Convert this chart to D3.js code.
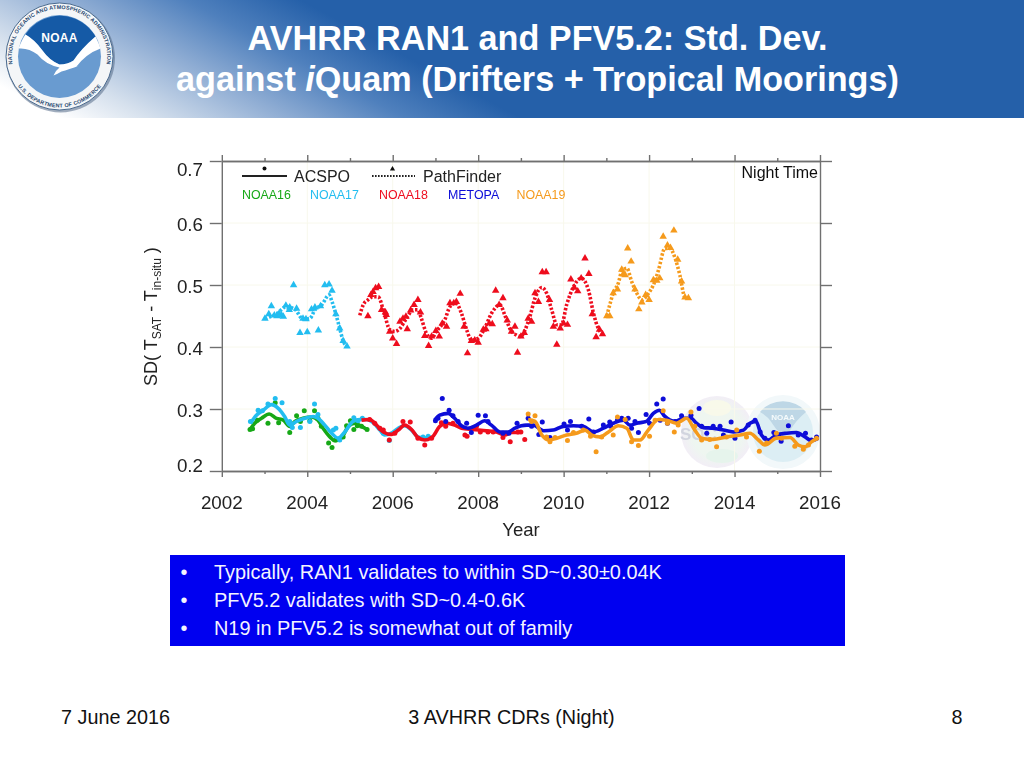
<!DOCTYPE html>
<html><head><meta charset="utf-8">
<script src="https://cdn.jsdelivr.net/npm/d3@7"></script>
<style>html,body{margin:0;padding:0;background:#fff}svg{display:block}text{font-family:"Liberation Sans",Arial,sans-serif}</style>
</head><body><div id="c"></div>
<script>
const titleLine1="AVHRR RAN1 and PFV5.2: Std. Dev.";
const yearTicks=[2002,2004,2006,2008,2010,2012,2014,2016];
const minorYearTicks=[2003,2005,2007,2009,2011,2013,2015];
const sdTicks=[0.2,0.3,0.4,0.5,0.6,0.7];
const bullets=["Typically, RAN1 validates to within SD~0.30±0.04K","PFV5.2 validates with SD~0.4-0.6K","N19 in PFV5.2 is somewhat out of family"];
const legendNames=["NOAA16","NOAA17","NOAA18","METOPA","NOAA19"];
const seriesColors={n16:"#18a818",n17:"#22bdf0",n18:"#ee0a1e",metop:"#0a0ad8",n19:"#f59a1c"};

const pf17Points=[[2003.01,.446],[2003.10,.453],[2003.16,.466],[2003.23,.451],[2003.29,.450],[2003.34,.454],[2003.40,.451],[2003.44,.449],[2003.50,.467],[2003.58,.460],[2003.59,.464],[2003.68,.500],[2003.75,.462],[2003.83,.423],[2003.90,.446],[2003.97,.445],[2004.00,.424],[2004.10,.461],[2004.18,.464],[2004.26,.427],[2004.31,.466],[2004.41,.500],[2004.51,.501],[2004.58,.491],[2004.67,.453],[2004.76,.430],[2004.84,.410],[2004.93,.401]];
const pf17Line=[[2003.01,.446],[2003.29,.454],[2003.51,.465],[2003.71,.461],[2003.90,.445],[2004.06,.446],[2004.18,.460],[2004.34,.468],[2004.51,.484],[2004.58,.473],[2004.67,.453],[2004.76,.430],[2004.84,.410],[2004.93,.401]];
const pf18Points=[[2005.42,.450],[2005.49,.484],[2005.54,.489],[2005.60,.495],[2005.67,.497],[2005.74,.460],[2005.83,.456],[2005.85,.452],[2005.93,.425],[2006.00,.414],[2006.09,.405],[2006.17,.441],[2006.24,.446],[2006.31,.449],[2006.34,.429],[2006.42,.459],[2006.50,.468],[2006.59,.476],[2006.65,.456],[2006.75,.418],[2006.84,.402],[2006.91,.417],[2007.01,.426],[2007.09,.417],[2007.16,.438],[2007.26,.433],[2007.34,.471],[2007.43,.471],[2007.49,.473],[2007.58,.486],[2007.67,.433],[2007.75,.390],[2007.84,.410],[2007.92,.411],[2008.00,.407],[2008.12,.428],[2008.18,.429],[2008.26,.438],[2008.33,.437],[2008.41,.491],[2008.49,.468],[2008.58,.479],[2008.68,.443],[2008.78,.425],[2008.86,.433],[2008.92,.391],[2009.00,.417],[2009.08,.423],[2009.17,.446],[2009.25,.441],[2009.33,.487],[2009.41,.473],[2009.50,.521],[2009.59,.521],[2009.67,.476],[2009.76,.433],[2009.84,.404],[2009.92,.430],[2010.00,.438],[2010.09,.436],[2010.17,.509],[2010.25,.496],[2010.33,.490],[2010.41,.511],[2010.50,.543],[2010.59,.518],[2010.67,.453],[2010.76,.416],[2010.84,.428],[2010.91,.421]];
const pf18Line=[[2005.23,.451],[2005.31,.468],[2005.42,.476],[2005.54,.481],[2005.66,.481],[2005.78,.460],[2005.93,.428],[2006.05,.425],[2006.17,.430],[2006.32,.446],[2006.48,.460],[2006.59,.460],[2006.67,.446],[2006.79,.422],[2006.91,.414],[2007.02,.425],[2007.22,.444],[2007.34,.465],[2007.48,.471],[2007.61,.454],[2007.73,.428],[2007.84,.411],[2008.00,.414],[2008.15,.430],[2008.31,.454],[2008.51,.468],[2008.62,.452],[2008.74,.430],[2008.90,.419],[2009.00,.417],[2009.10,.428],[2009.21,.449],[2009.33,.479],[2009.49,.496],[2009.60,.487],[2009.72,.460],[2009.84,.436],[2009.95,.436],[2010.07,.468],[2010.23,.497],[2010.41,.511],[2010.58,.492],[2010.70,.454],[2010.81,.430],[2010.91,.421]];
const pf19Points=[[2011.01,.450],[2011.08,.450],[2011.16,.487],[2011.26,.493],[2011.36,.525],[2011.40,.518],[2011.44,.516],[2011.50,.559],[2011.58,.538],[2011.67,.493],[2011.76,.461],[2011.83,.472],[2011.92,.484],[2012.00,.476],[2012.10,.508],[2012.18,.507],[2012.25,.511],[2012.33,.578],[2012.43,.564],[2012.50,.560],[2012.58,.588],[2012.67,.541],[2012.76,.506],[2012.84,.480],[2012.92,.479]];
const pf19Line=[[2011.01,.450],[2011.08,.468],[2011.16,.487],[2011.28,.503],[2011.36,.522],[2011.48,.527],[2011.59,.506],[2011.71,.487],[2011.83,.476],[2011.98,.486],[2012.10,.500],[2012.22,.524],[2012.37,.559],[2012.49,.559],[2012.61,.543],[2012.72,.516],[2012.84,.480],[2012.92,.479]];

const ac16Points=[[2002.66,.267],[2002.72,.268],[2002.83,.282],[2003.08,.277],[2003.25,.310],[2003.33,.278],[2003.59,.262],[2003.75,.289],[2003.84,.280],[2003.93,.297],[2004.06,.281],[2004.17,.297],[2004.25,.285],[2004.33,.272],[2004.50,.245],[2004.58,.238],[2004.67,.250],[2004.84,.255],[2004.92,.273],[2005.01,.281],[2005.09,.267],[2005.17,.273],[2005.27,.272],[2005.40,.267]];
const ac16Line=[[2002.66,.267],[2002.77,.277],[2002.93,.285],[2003.11,.292],[2003.28,.285],[2003.44,.282],[2003.59,.272],[2003.71,.280],[2003.90,.285],[2004.10,.287],[2004.25,.282],[2004.37,.269],[2004.53,.255],[2004.64,.249],[2004.80,.253],[2004.96,.272],[2005.11,.277],[2005.27,.272],[2005.40,.267]];
const ac17Points=[[2002.67,.280],[2002.85,.298],[2002.95,.297],[2003.08,.308],[2003.25,.317],[2003.41,.310],[2003.59,.280],[2003.65,.270],[2003.84,.270],[2004.06,.280],[2004.17,.308],[2004.25,.291],[2004.61,.266],[2004.67,.269],[2004.76,.250],[2005.09,.286],[2005.19,.281],[2005.29,.285],[2005.78,.261],[2005.92,.249],[2006.71,.255],[2006.83,.256]];
const ac17Line=[[2002.67,.277],[2002.81,.290],[2002.97,.298],[2003.16,.307],[2003.32,.301],[2003.47,.288],[2003.59,.274],[2003.75,.280],[2003.94,.285],[2004.14,.288],[2004.25,.285],[2004.41,.274],[2004.57,.261],[2004.72,.253],[2004.88,.263],[2005.07,.280],[2005.23,.283],[2005.39,.283],[2005.54,.278],[2005.70,.266],[2005.81,.258],[2005.97,.261],[2006.13,.269],[2006.28,.273],[2006.44,.266],[2006.59,.255],[2006.75,.253],[2006.91,.255]];
const ac18Points=[[2005.46,.283],[2005.58,.277],[2005.70,.269],[2005.78,.266],[2005.92,.250],[2006.05,.261],[2006.24,.280],[2006.41,.279],[2006.59,.253],[2006.75,.242],[2006.91,.253],[2007.14,.278],[2007.24,.272],[2007.41,.277],[2007.69,.258],[2007.74,.256],[2007.96,.272],[2008.05,.263],[2008.23,.263],[2008.35,.263],[2008.58,.254],[2008.75,.247],[2008.93,.263],[2009.00,.263],[2009.09,.251]];
const ac18Line=[[2005.27,.282],[2005.46,.283],[2005.62,.274],[2005.78,.263],[2005.97,.259],[2006.13,.266],[2006.28,.274],[2006.44,.267],[2006.59,.254],[2006.75,.250],[2006.93,.255],[2007.10,.272],[2007.26,.277],[2007.45,.274],[2007.61,.269],[2007.88,.267],[2008.19,.265],[2008.43,.263],[2008.62,.258],[2008.78,.262],[2008.97,.262]];
const acMetopPoints=[[2007.00,.281],[2007.06,.285],[2007.16,.317],[2007.24,.280],[2007.32,.298],[2007.41,.289],[2007.53,.280],[2007.73,.277],[2007.84,.262],[2008.00,.290],[2008.17,.289],[2008.23,.280],[2008.58,.261],[2008.72,.261],[2008.91,.277],[2009.17,.285],[2009.25,.272],[2009.42,.259],[2009.50,.279],[2009.68,.254],[2010.01,.276],[2010.09,.266],[2010.16,.280],[2010.42,.272],[2010.59,.284],[2010.70,.263],[2010.93,.274],[2011.08,.279],[2011.10,.272],[2011.26,.282],[2011.36,.285],[2011.51,.285],[2011.59,.269],[2011.67,.280],[2011.75,.262],[2011.93,.291],[2012.01,.277],[2012.18,.308],[2012.26,.282],[2012.33,.316],[2012.43,.277],[2012.61,.280],[2012.76,.289],[2012.98,.290],[2013.17,.301],[2013.23,.272],[2013.35,.261],[2013.50,.272],[2013.66,.272],[2013.74,.258],[2013.92,.279],[2014.01,.253],[2014.32,.274],[2014.48,.282],[2014.60,.263],[2014.71,.253],[2014.92,.262],[2015.09,.248],[2015.26,.273],[2015.49,.258],[2015.66,.261],[2015.80,.250],[2015.92,.255]];
const acMetopLine=[[2006.98,.282],[2007.10,.290],[2007.30,.293],[2007.45,.285],[2007.61,.273],[2007.76,.269],[2007.96,.274],[2008.15,.281],[2008.31,.274],[2008.51,.263],[2008.70,.263],[2008.86,.269],[2009.01,.273],[2009.14,.274],[2009.29,.274],[2009.53,.265],[2009.76,.266],[2009.99,.272],[2010.23,.273],[2010.46,.272],[2010.70,.263],[2010.93,.269],[2011.16,.277],[2011.40,.282],[2011.55,.274],[2011.71,.277],[2011.94,.280],[2012.10,.293],[2012.24,.298],[2012.37,.288],[2012.61,.280],[2012.80,.285],[2012.98,.285],[2013.11,.277],[2013.27,.270],[2013.50,.269],[2013.74,.266],[2013.97,.263],[2014.21,.266],[2014.36,.277],[2014.50,.280],[2014.63,.258],[2014.79,.250],[2014.98,.258],[2015.22,.261],[2015.45,.262],[2015.65,.255],[2015.80,.249],[2015.96,.253]];
const ac19Points=[[2009.17,.292],[2009.25,.280],[2009.33,.289],[2009.60,.255],[2009.68,.247],[2009.80,.254],[2010.09,.249],[2010.23,.262],[2010.46,.266],[2010.63,.256],[2010.76,.231],[2010.89,.255],[2011.16,.258],[2011.26,.287],[2011.44,.283],[2011.59,.247],[2011.75,.241],[2012.01,.256],[2012.14,.282],[2012.33,.297],[2012.43,.277],[2012.59,.263],[2012.68,.274],[2012.98,.295],[2013.07,.272],[2013.23,.250],[2013.42,.251],[2013.58,.239],[2013.81,.255],[2014.05,.266],[2014.28,.255],[2014.58,.232],[2014.75,.245],[2014.98,.261],[2015.10,.253],[2015.41,.240],[2015.61,.235],[2015.73,.242],[2015.92,.253]];
const ac19Line=[[2009.17,.283],[2009.33,.280],[2009.49,.258],[2009.64,.250],[2009.84,.253],[2010.07,.258],[2010.30,.261],[2010.50,.266],[2010.66,.258],[2010.85,.255],[2011.05,.263],[2011.28,.273],[2011.48,.269],[2011.63,.250],[2011.79,.250],[2011.98,.266],[2012.22,.283],[2012.41,.282],[2012.64,.277],[2012.88,.285],[2013.07,.266],[2013.23,.253],[2013.50,.251],[2013.81,.255],[2014.13,.258],[2014.36,.261],[2014.56,.250],[2014.71,.242],[2014.98,.253],[2015.30,.254],[2015.49,.242],[2015.65,.239],[2015.80,.247],[2015.94,.253]];

const W=1024,H=768;
const svg=d3.select("#c").append("svg").attr("width",W).attr("height",H).attr("viewBox",`0 0 ${W} ${H}`);
const defs=svg.append("defs");
const g1=defs.append("linearGradient").attr("id","hdr").attr("gradientUnits","userSpaceOnUse").attr("x1",60).attr("y1",118).attr("x2",163).attr("y2",-74);
[[0,"#ffffff"],[.2,"#d5e0ed"],[.5,"#8eacd3"],[.75,"#4f80bd"],[1,"#2560a9"]].forEach(d=>g1.append("stop").attr("offset",d[0]).attr("stop-color",d[1]));
defs.append("filter").attr("id","soft").attr("x","-5%").attr("y","-5%").attr("width","110%").attr("height","110%").append("feGaussianBlur").attr("stdDeviation",.45);
const rb=defs.append("radialGradient").attr("id","wm1");
[[0,"#f0f6f0"],[.7,"#eef6f0"],[1,"#f2eef6"]].forEach(d=>rb.append("stop").attr("offset",d[0]).attr("stop-color",d[1]));

// header
svg.append("rect").attr("width",W).attr("height",118).attr("fill","url(#hdr)");

// logo
const logo=svg.append("g").attr("transform","translate(59.5,56.5)");
logo.append("circle").attr("r",54.5).attr("cx",1).attr("cy",1.5).attr("fill","#556b88").attr("opacity",.55);
logo.append("circle").attr("r",53.5).attr("fill","#f4f6f8").attr("stroke","#4a6a8e").attr("stroke-width",1);
logo.append("circle").attr("r",41.5).attr("fill","#699bd0");
defs.append("path").attr("id","arcTop").attr("d","M-45.5,14 A47.6,47.6 0 1 1 45.5,14");
defs.append("path").attr("id","arcBot").attr("d","M-46,22 A51,51 0 0 0 46,22");
logo.append("text").attr("font-size",5.4).attr("font-weight",700).attr("fill","#26476f").attr("letter-spacing",.2).append("textPath").attr("href","#arcTop").attr("startOffset","50%").attr("text-anchor","middle").text("NATIONAL OCEANIC AND ATMOSPHERIC ADMINISTRATION");
logo.append("text").attr("font-size",5.4).attr("font-weight",700).attr("fill","#26476f").attr("letter-spacing",.2).append("textPath").attr("href","#arcBot").attr("startOffset","50%").attr("text-anchor","middle").text("U.S. DEPARTMENT OF COMMERCE");
logo.append("path").attr("d","M-34,-22 A41,41 0 0 1 36,-20 Q22,-8 14,4 Q8,8 0,8 Q-10,4 -17,-6 Q-25,-17 -34,-22Z").attr("fill","#155aa6");
logo.append("path").attr("d","M-41,-8 Q-37,-18 -34,-22 Q-25,-17 -17,-6 Q-10,4 0,8 Q8,8 14,4 Q22,-8 36,-20 Q39,-14 41,-8 Q27,-3 17,10 L20,9 Q9,13 2,15 Q-3,18 -6,19 Q-4,14 0,11 Q-14,8 -22,-2 Q-31,-9 -41,-8Z").attr("fill","#fff");
logo.append("text").attr("x",0).attr("y",-14.5).attr("text-anchor","middle").attr("font-size",12).attr("font-weight",700).attr("fill","#fff").attr("letter-spacing",.3).text("NOAA");

// title
svg.append("text").attr("x",537.5).attr("y",50).attr("text-anchor","middle").attr("fill","#fff").attr("font-size",34.2).attr("font-weight",700).text(titleLine1);
const t2=svg.append("text").attr("x",537.5).attr("y",91).attr("text-anchor","middle").attr("fill","#fff").attr("font-size",34.2).attr("font-weight",700);
t2.append("tspan").text("against ");t2.append("tspan").attr("font-style","italic").text("i");t2.append("tspan").text("Quam (Drifters + Tropical Moorings)");

// chart
const x=d3.scaleLinear().domain([2002,2016]).range([221.8,820]);
const y=d3.scaleLinear().domain([0.2,0.7]).range([471,161]);
const ch=svg.append("g").attr("filter","url(#soft)");

// watermarks behind data
const wm=ch.append("g");
wm.append("circle").attr("cx",717).attr("cy",432).attr("r",36).attr("fill","url(#wm1)");
wm.append("ellipse").attr("cx",717).attr("cy",408).attr("rx",14).attr("ry",8).attr("fill","#f8f9ea");
wm.append("ellipse").attr("cx",722).attr("cy",456).attr("rx",16).attr("ry",7).attr("fill","#e6f4ec");
wm.append("text").attr("x",680).attr("y",440).attr("font-size",17).attr("font-weight",700).attr("fill","#d2d5df").text("SOC");
wm.append("circle").attr("cx",783).attr("cy",432).attr("r",37).attr("fill","#f2f8fa");
wm.append("circle").attr("cx",783).attr("cy",432).attr("r",30).attr("fill","#dcEEf4");
wm.append("path").attr("d","M760,412 A30,30 0 0 1 806,412 Q796,420 789,432 Q780,436 774,426 Q768,416 760,412Z").attr("fill","#bed7e6");
wm.append("text").attr("x",783).attr("y",420).attr("text-anchor","middle").attr("font-size",8).attr("font-weight",700).attr("fill","#f6fbfc").text("NOAA");

// faint grid
const gridC="#f8f8ec";
ch.append("g").selectAll("line").data(yearTicks.slice(1,-1)).join("line").attr("x1",d=>x(d)).attr("x2",d=>x(d)).attr("y1",y(0.2)).attr("y2",y(0.7)).attr("stroke",gridC);
ch.append("g").selectAll("line").data(sdTicks.slice(1,-1)).join("line").attr("x1",x(2002)).attr("x2",x(2016)).attr("y1",d=>y(d)).attr("y2",d=>y(d)).attr("stroke",gridC);

// axes
const axC="#707070";
function styleAxis(g){g.selectAll("line,path").attr("stroke",axC).attr("stroke-width",1.4);g.selectAll("text").remove();}
ch.append("g").attr("transform",`translate(0,${y(.2)})`).call(d3.axisBottom(x).tickValues(yearTicks).tickSize(6).tickSizeOuter(0)).call(styleAxis);
ch.append("g").attr("transform",`translate(0,${y(.2)})`).call(d3.axisBottom(x).tickValues(minorYearTicks).tickSize(3).tickSizeOuter(0)).call(styleAxis);
ch.append("g").attr("transform",`translate(0,${y(.7)})`).call(d3.axisTop(x).tickValues(yearTicks).tickSize(6).tickSizeOuter(0)).call(styleAxis);
ch.append("g").attr("transform",`translate(0,${y(.7)})`).call(d3.axisTop(x).tickValues(minorYearTicks).tickSize(3).tickSizeOuter(0)).call(styleAxis);
ch.append("g").attr("transform",`translate(${x(2002)},0)`).call(d3.axisLeft(y).tickValues(sdTicks).tickSize(12).tickSizeOuter(0)).call(styleAxis);
ch.append("g").attr("transform",`translate(${x(2016)},0)`).call(d3.axisRight(y).tickValues(sdTicks).tickSize(12).tickSizeOuter(0)).call(styleAxis);

// tick labels
const txt="#222";
ch.append("g").selectAll("text").data(yearTicks).join("text").attr("x",d=>x(d)).attr("y",509).attr("text-anchor","middle").attr("font-size",18.8).attr("fill",txt).text(d=>d);
ch.append("g").selectAll("text").data(sdTicks).join("text").attr("x",203).attr("y",d=>y(d)+6.5+(d===.7?8:d===.2?-6:1)).attr("text-anchor","end").attr("font-size",18.8).attr("fill",txt).text(d3.format(".1f"));
ch.append("text").attr("x",521).attr("y",536).attr("text-anchor","middle").attr("font-size",18.5).attr("fill",txt).text("Year");
const yt=ch.append("text").attr("transform","translate(157,386) rotate(-90)").attr("font-size",18).attr("fill",txt);
yt.append("tspan").text("SD( T");
yt.append("tspan").attr("font-size",12).attr("dy",4).text("SAT");
yt.append("tspan").attr("dy",-4).text("  - T");
yt.append("tspan").attr("font-size",12).attr("dy",4).text("in-situ");
yt.append("tspan").attr("dy",-4).text(" )");

// marks
const line=d3.line().x(d=>x(d[0])).y(d=>y(d[1])).curve(d3.curveMonotoneX);
const tri=d3.symbol().type(d3.symbolTriangle).size(24);
function pf(pts,ln,c){
  const g=ch.append("g");
  g.append("path").datum(ln).attr("d",line).attr("fill","none").attr("stroke",c).attr("stroke-width",3.6).attr("stroke-dasharray","2.4 1.8");
  g.selectAll("path.m").data(pts).join("path").attr("class","m").attr("d",tri).attr("fill",c).attr("transform",d=>`translate(${x(d[0])},${y(d[1])})`);
}
function ac(pts,ln,c){
  const g=ch.append("g");
  g.selectAll("circle").data(pts).join("circle").attr("cx",d=>x(d[0])).attr("cy",d=>y(d[1])).attr("r",2.5).attr("fill",c);
  g.append("path").datum(ln).attr("d",line).attr("fill","none").attr("stroke",c).attr("stroke-width",3.6).attr("stroke-linejoin","round");
}
pf(pf17Points,pf17Line,seriesColors.n17);
pf(pf18Points,pf18Line,seriesColors.n18);
pf(pf19Points,pf19Line,seriesColors.n19);
ac(ac16Points,ac16Line,seriesColors.n16);
ac(ac17Points,ac17Line,seriesColors.n17);
ac(ac18Points,ac18Line,seriesColors.n18);
ac(acMetopPoints,acMetopLine,seriesColors.metop);
ac(ac19Points,ac19Line,seriesColors.n19);

// legend
const lg=ch.append("g");
lg.append("line").attr("x1",242).attr("x2",287).attr("y1",176).attr("y2",176).attr("stroke","#222").attr("stroke-width",2);
lg.append("circle").attr("cx",264.5).attr("cy",168.5).attr("r",2).attr("fill","#111");
lg.append("text").attr("x",294).attr("y",182).attr("font-size",16).attr("fill",txt).text("ACSPO");
lg.append("line").attr("x1",372).attr("x2",415).attr("y1",176).attr("y2",176).attr("stroke","#222").attr("stroke-width",2).attr("stroke-dasharray","1.6 1.4");
lg.append("path").attr("d",d3.symbol().type(d3.symbolTriangle).size(12)).attr("transform","translate(392.5,169)").attr("fill","#111");
lg.append("text").attr("x",423).attr("y",182).attr("font-size",16).attr("fill",txt).text("PathFinder");
const legX=[242,310,379,448,516.5],legC=[seriesColors.n16,seriesColors.n17,seriesColors.n18,seriesColors.metop,seriesColors.n19];
lg.selectAll("text.n").data(legendNames).join("text").attr("class","n").attr("x",(d,i)=>legX[i]).attr("y",198.5).attr("font-size",12.4).attr("fill",(d,i)=>legC[i]).text(d=>d);
lg.append("text").attr("x",818).attr("y",178).attr("text-anchor","end").attr("font-size",16).attr("fill","#111").text("Night Time");

// blue box
svg.append("rect").attr("x",170).attr("y",555).attr("width",675).attr("height",91).attr("fill","#0000f0");
const by=[579,607,635];
svg.append("g").selectAll("text").data(bullets).join("text").attr("x",214).attr("y",(d,i)=>by[i]).attr("font-size",19.9).attr("fill","#f4f4ff").text(d=>d);
svg.append("g").selectAll("text").data(bullets).join("text").attr("x",180.5).attr("y",(d,i)=>by[i]).attr("font-size",19.9).attr("fill","#f4f4ff").text("•");

// footer
svg.append("text").attr("x",61).attr("y",724).attr("font-size",19.8).attr("fill","#111").text("7 June 2016");
svg.append("text").attr("x",511.5).attr("y",724).attr("text-anchor","middle").attr("font-size",19.8).attr("fill","#111").text("3 AVHRR CDRs (Night)");
svg.append("text").attr("x",957).attr("y",724).attr("text-anchor","middle").attr("font-size",19.8).attr("fill","#111").text("8");
</script></body></html>
